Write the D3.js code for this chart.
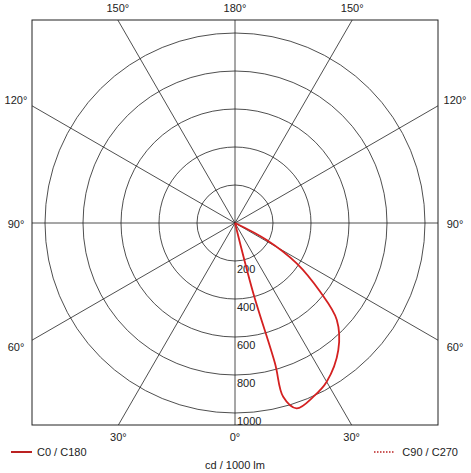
<!DOCTYPE html>
<html><head><meta charset="utf-8">
<script src="https://cdn.jsdelivr.net/npm/d3@7"></script>
<style>body{margin:0;background:#fff}text{font-family:Arial,"Liberation Sans",sans-serif;font-size:11px;fill:#222}</style>
</head><body><svg id="c" width="471" height="473"></svg>
<script>
// C0/C180 curve: angle from nadir (deg), intensity (cd/1000 lm)
const curveAngles = [0, 14.6, 15.9, 15.5, 18.4, 24.3, 30, 39.1, 46.4, 51.1, 56.8, 61.8, 0];
const curveValues = [0, 382, 768, 949, 1028, 1003, 965, 862, 740, 575, 388, 189, 0];
const ringValues = [200, 400, 600, 800, 1000];
const spokeAngles = [0, 30, 60, 90, 120, 150, 180, 210, 240, 270, 300, 330];
const topLabels = [[150, -1], [180, 0], [150, 1]];
const sideLabels = [[120, 100], [90, 224], [60, 347]];

const svg = d3.select('#c');
const frame = { x0: 32, x1: 438, y0: 20, y1: 425 };
const cx = 235, cy = 223;
const r = d3.scaleLinear().domain([0, 1000]).range([0, 190]);
const toRad = (deg) => Math.PI - deg * Math.PI / 180;

svg.append('clipPath').attr('id', 'clip').append('rect')
  .attr('x', frame.x0).attr('y', frame.y0).attr('width', frame.x1 - frame.x0).attr('height', frame.y1 - frame.y0);

const g = svg.append('g').attr('transform', `translate(${cx},${cy})`);
const gc = svg.append('g').attr('clip-path', 'url(#clip)').append('g').attr('transform', `translate(${cx},${cy})`);

gc.selectAll('line.spoke').data(spokeAngles).join('line')
  .attr('x2', (d) => 600 * Math.sin(toRad(d))).attr('y2', (d) => -600 * Math.cos(toRad(d)))
  .attr('stroke', '#222').attr('stroke-width', 0.8);
gc.selectAll('circle').data(ringValues).join('circle')
  .attr('r', (d) => r(d)).attr('fill', 'none').attr('stroke', '#222').attr('stroke-width', 0.8);

svg.append('rect').attr('x', frame.x0).attr('y', frame.y0).attr('width', frame.x1 - frame.x0).attr('height', frame.y1 - frame.y0)
  .attr('fill', 'none').attr('stroke', '#222').attr('stroke-width', 1);

g.selectAll('text.ring').data(ringValues).join('text')
  .attr('x', 2).attr('y', (d) => r(d) + 12).text((d) => d);

const line = d3.lineRadial().angle((d) => toRad(d[0])).radius((d) => r(d[1])).curve(d3.curveCatmullRom.alpha(0.5));
gc.append('path').datum(curveAngles.map((a, i) => [a, curveValues[i]]))
  .attr('d', line).attr('fill', 'none').attr('stroke', '#d42020').attr('stroke-width', 1.8);

// angle labels
const tan30 = Math.tan(Math.PI / 6);
svg.selectAll('text.top').data(topLabels).join('text')
  .attr('x', (d) => cx + d[1] * (cy - frame.y0) * tan30).attr('y', 12)
  .attr('text-anchor', 'middle').text((d) => d[0] + '°');
svg.selectAll('text.bot').data([[30, -1], [0, 0], [30, 1]]).join('text')
  .attr('x', (d) => cx + d[1] * (frame.y1 - cy) * tan30).attr('y', 441)
  .attr('text-anchor', 'middle').text((d) => d[0] + '°');
sideLabels.forEach(([a, y]) => {
  svg.append('text').attr('x', 16).attr('y', y + 4).attr('text-anchor', 'middle').text(a + '°');
  svg.append('text').attr('x', 455).attr('y', y + 4).attr('text-anchor', 'middle').text(a + '°');
});

// legend
svg.append('line').attr('x1', 11).attr('x2', 32).attr('y1', 452).attr('y2', 452).attr('stroke', '#b22').attr('stroke-width', 2);
svg.append('text').attr('x', 37).attr('y', 456).text('C0 / C180');
svg.append('line').attr('x1', 374).attr('x2', 394).attr('y1', 452).attr('y2', 452).attr('stroke', '#b22').attr('stroke-width', 1.5).attr('stroke-dasharray', '1.5,1.5');
svg.append('text').attr('x', 458).attr('y', 456).attr('text-anchor', 'end').text('C90 / C270');
svg.append('text').attr('x', cx).attr('y', 469).attr('text-anchor', 'middle').text('cd / 1000 lm');
</script></body></html>
